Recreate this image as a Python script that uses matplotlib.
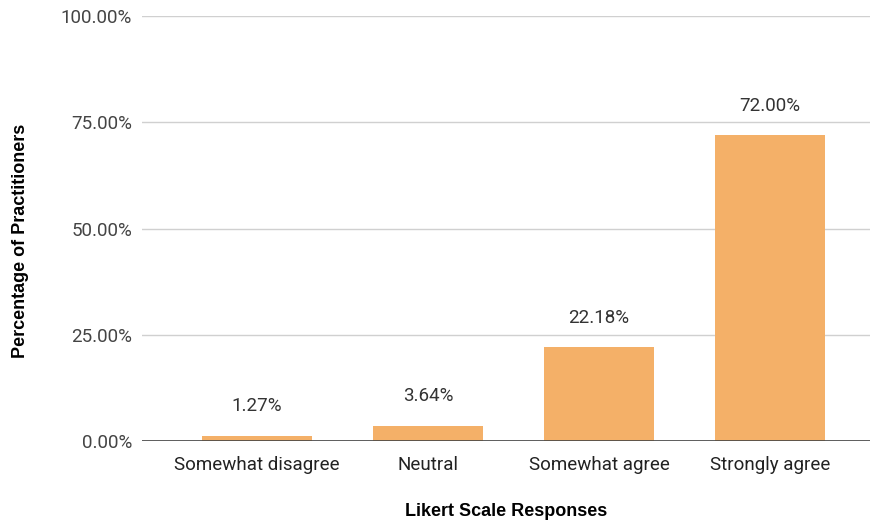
import matplotlib.pyplot as plt

plt.rcParams['font.family'] = ['Roboto', 'DejaVu Sans']

categories = ['Somewhat disagree', 'Neutral', 'Somewhat agree', 'Strongly agree']
values = [1.27, 3.64, 22.18, 72.00]
yticks = [0, 25, 50, 75, 100]

figure = plt.figure(figsize=(8.73, 5.27), dpi=100)
axes = figure.add_axes([142 / 873, 1 - 441 / 527, (870 - 142) / 873, (441 - 16) / 527])

xpos = list(range(len(categories)))
bars = axes.bar(xpos, values, width=0.643, color='#F4B068', zorder=3)

# value labels above bars
for x, v in zip(xpos, values):
    axes.annotate('%.2f%%' % v, (x, v), xytext=(0, 21), textcoords='offset points',
                  ha='center', va='center', fontsize=13.5, color='#333333')

axes.set_xlim(-0.673, 3.585)
axes.set_ylim(0, 100)
axes.set_yticks(yticks)
axes.set_yticklabels(['%.2f%%' % t for t in yticks], fontsize=13.5, color='#444444')
axes.set_xticks(xpos)
axes.set_xticklabels(categories, fontsize=13.5, color='#222222')
axes.tick_params(length=0)
axes.tick_params(axis='y', pad=7)
axes.tick_params(axis='x', pad=11)

axes.grid(axis='y', color='#d0d0d0', linewidth=1, zorder=0)
axes.axhline(0, color='#444444', linewidth=1.2, zorder=4)
for s in axes.spines.values():
    s.set_visible(False)

lab_font = ['Liberation Sans', 'DejaVu Sans']
axes.set_xlabel('Likert Scale Responses', fontsize=13, fontweight='bold', family=lab_font)
axes.xaxis.set_label_coords(0.5, -(511 - 441) / 425)
axes.set_ylabel('Percentage of Practitioners', fontsize=13, fontweight='bold', family=lab_font)
axes.yaxis.set_label_coords(-(142 - 21) / 728, 0.47)
axes.yaxis.label.set_va('center')
axes.xaxis.label.set_va('center')

figure.savefig('out.png', dpi=100)
